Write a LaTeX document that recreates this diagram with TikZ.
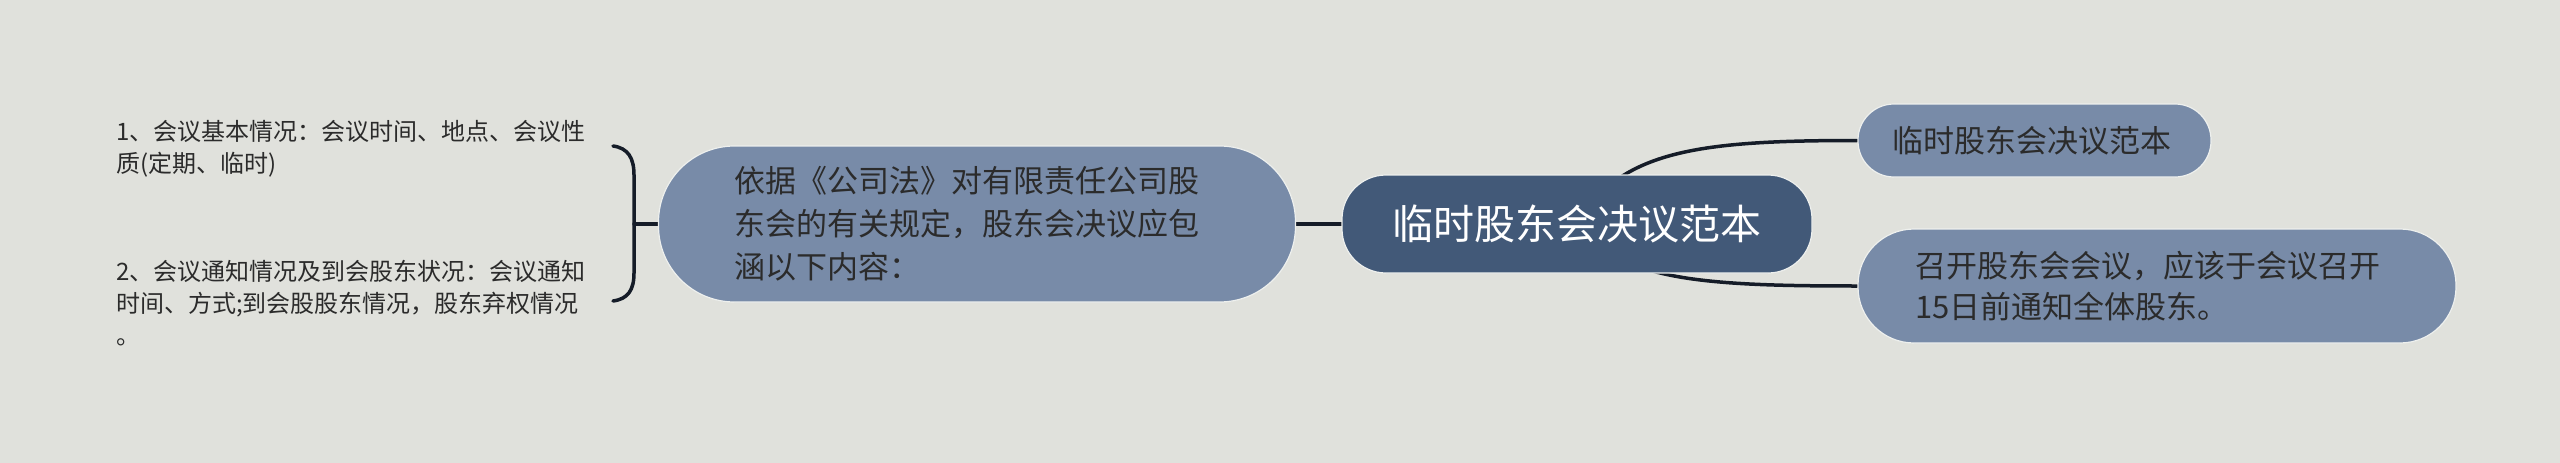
\documentclass[tikz,border=0pt]{standalone}
\usepackage{fontspec}
\newfontfamily\cjk{Noto Sans CJK SC}
\usetikzlibrary{backgrounds}
\definecolor{bgc}{HTML}{E0E1DC}
\definecolor{topicc}{HTML}{788BA8}
\definecolor{rootc}{HTML}{425978}
\definecolor{linec}{HTML}{151C28}
\definecolor{txtc}{HTML}{2B2B2B}
\definecolor{edgec}{HTML}{EEF0EE}
\begin{document}
\begin{tikzpicture}[x=1pt,y=-1pt,
  every node/.style={font=\cjk},
  rootbox/.style={rectangle, fill=rootc, draw=edgec, line width=1.2pt, inner sep=0pt,
    minimum width=470pt, minimum height=98pt, rounded corners=44pt,
    text=white, font=\cjk\fontsize{41}{50}\selectfont, align=center},
  topicbox/.style={rectangle, fill=topicc, draw=edgec, line width=1.2pt, inner sep=0pt,
    text=txtc, font=\cjk\fontsize{31}{43}\selectfont, align=left},
  leaftext/.style={inner sep=0pt, text=txtc, font=\cjk\fontsize{24}{32}\selectfont,
    text width=480pt, align=left, anchor=west},
  conn/.style={draw=linec, line width=3.5pt, line cap=round}
]
\useasboundingbox (0,0) rectangle (2560,463);

\node[rootbox] (root) at (1577,224) {临时股东会决议范本};
\node[topicbox, minimum width=637pt, minimum height=156pt, rounded corners=76pt, text width=485pt]
  (basis) at (977,224) {依据《公司法》对有限责任公司股\\东会的有关规定，股东会决议应包\\涵以下内容：};
\node[topicbox, minimum width=353pt, minimum height=73pt, rounded corners=36pt, text width=285pt]
  (rt) at (2034.5,140.5) {临时股东会决议范本};
\node[topicbox, minimum width=598pt, minimum height=114pt, rounded corners=56pt, text width=484pt,
  font=\cjk\fontsize{31}{41}\selectfont]
  (rb) at (2157,286) {召开股东会会议，应该于会议召开\\15日前通知全体股东。};

\node[leaftext] (d1) at (116,149) {1、会议基本情况：会议时间、地点、会议性\\质(定期、临时)};
\node[leaftext] (d2) at (116,303) {2、会议通知情况及到会股东状况：会议通知\\时间、方式;到会股股东情况，股东弃权情况\\。};

\coordinate (bt) at (613,146);
\coordinate (bb) at (613,301);
\coordinate (bm) at (634,224);

\begin{scope}[on background layer]
  \fill[bgc] (0,0) rectangle (2560,463);
  \draw[conn] (bt) .. controls (628,148) and (634,158) .. (634,175) -- (634,273)
    .. controls (634,290) and (628,299) .. (bb);
  \draw[conn] (bm) -- (basis.west);
  \draw[conn] (basis.east) -- (root.west);
  \draw[conn] (root.center) .. controls (1620,150) and (1700,140.5) .. (rt.west);
  \draw[conn] (root.center) .. controls (1620,280) and (1700,286) .. (rb.west);
\end{scope}
\end{tikzpicture}
\end{document}
